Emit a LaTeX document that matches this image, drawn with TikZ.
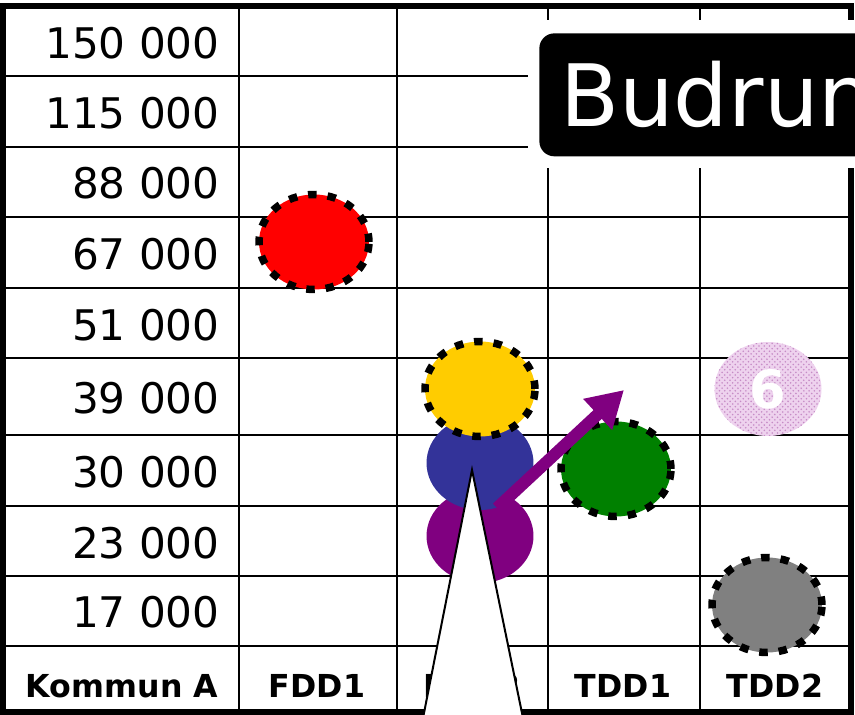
\documentclass[tikz,border=0pt]{standalone}
\usepackage{fontspec}
\setmainfont{DejaVu Sans}
\usetikzlibrary{shapes.geometric,arrows.meta,patterns}
\definecolor{ryellow}{HTML}{FFCC00}
\definecolor{rblue}{HTML}{333399}
\definecolor{rpurple}{HTML}{800080}
\definecolor{rgreen}{HTML}{008000}
\definecolor{rgray}{HTML}{808080}
\definecolor{rpink}{HTML}{EED2EE}

\begin{document}
\begin{tikzpicture}[x=0.02cm,y=-0.02cm,
  gl/.style={draw=black,line width=0.045cm},
  outer/.style={draw=black,line width=0.11cm},
  val/.style={anchor=east,inner sep=0pt,font=\fontsize{24}{28}\selectfont},
  colname/.style={inner sep=0pt,font=\fontsize{18}{20}\selectfont\bfseries},
  blob/.style={ellipse,minimum width=2.14cm,minimum height=1.88cm,inner sep=0pt},
  dblob/.style={ellipse,minimum width=2.2cm,minimum height=1.9cm,inner sep=0pt,draw=black,line width=0.15cm,dash pattern=on 0.17cm off 0.22cm},
  arr/.style={draw=rpurple,line width=0.24cm,-{Triangle[length=0.72cm,width=0.8cm]}}]
  \path[use as bounding box] (0,0) rectangle (855,715);
  \clip (0,0) rectangle (855,715);
  % grid
  \foreach \y in {76,147,217,288,358,435,506,576,646} \draw[gl] (3,\y) -- (851,\y);
  \foreach \x in {239,397,548,700} \draw[gl] (\x,6) -- (\x,712);
  \draw[outer] (3,6) rectangle (851,712);
  % title box with white margin
  \fill[white] (528,20) rectangle (860,168);
  \node[anchor=north west,fill=black,rounded corners=0.3cm,minimum height=2.46cm,inner xsep=0.42cm,text=white,font=\fontsize{49}{52}\selectfont] (title) at (539,33) {Budrun};
  % values
  \foreach \t/\y in {150 000/43,115 000/113,88 000/183,67 000/254,51 000/325,39 000/398,30 000/472,23 000/543,17 000/612}
    \node[val] at (220,\y) {\t};
  % column names
  \node[colname] (ka) at (122,686) {Kommun A};
  \node[colname] (fdd1) at (317,686) {FDD1};
  \node[colname] (fdd2) at (472,686) {FDD2};
  \node[colname] (tdd1) at (623,686) {TDD1};
  \node[colname] (tdd2) at (775,686) {TDD2};
  % circles
  \node[blob,fill=rpink,postaction={pattern=crosshatch dots,pattern color=rpurple!45},text=white,font=\fontsize{30}{32}\selectfont\bfseries] (six) at (768,389) {6};
  \node[dblob,fill=red] (red) at (314,242) {};
  \node[blob,fill=rpurple] (purple) at (480,536) {};
  \node[blob,fill=rblue] (blue) at (480,463) {};
  \node[dblob,fill=ryellow] (yellow) at (480,389) {};
  \node[dblob,fill=rgreen] (green) at (616,469) {};
  \node[dblob,fill=rgray] (gray) at (767,605) {};
  % arrow
  \coordinate (tail) at (497,508);
  \coordinate (tip) at (624,390);
  \draw[arr] (tail) -- (tip);
  % spike
  \filldraw[fill=white,draw=black,line width=0.04cm] (423,718) -- (472,470) -- (523,718);
\end{tikzpicture}
\end{document}
